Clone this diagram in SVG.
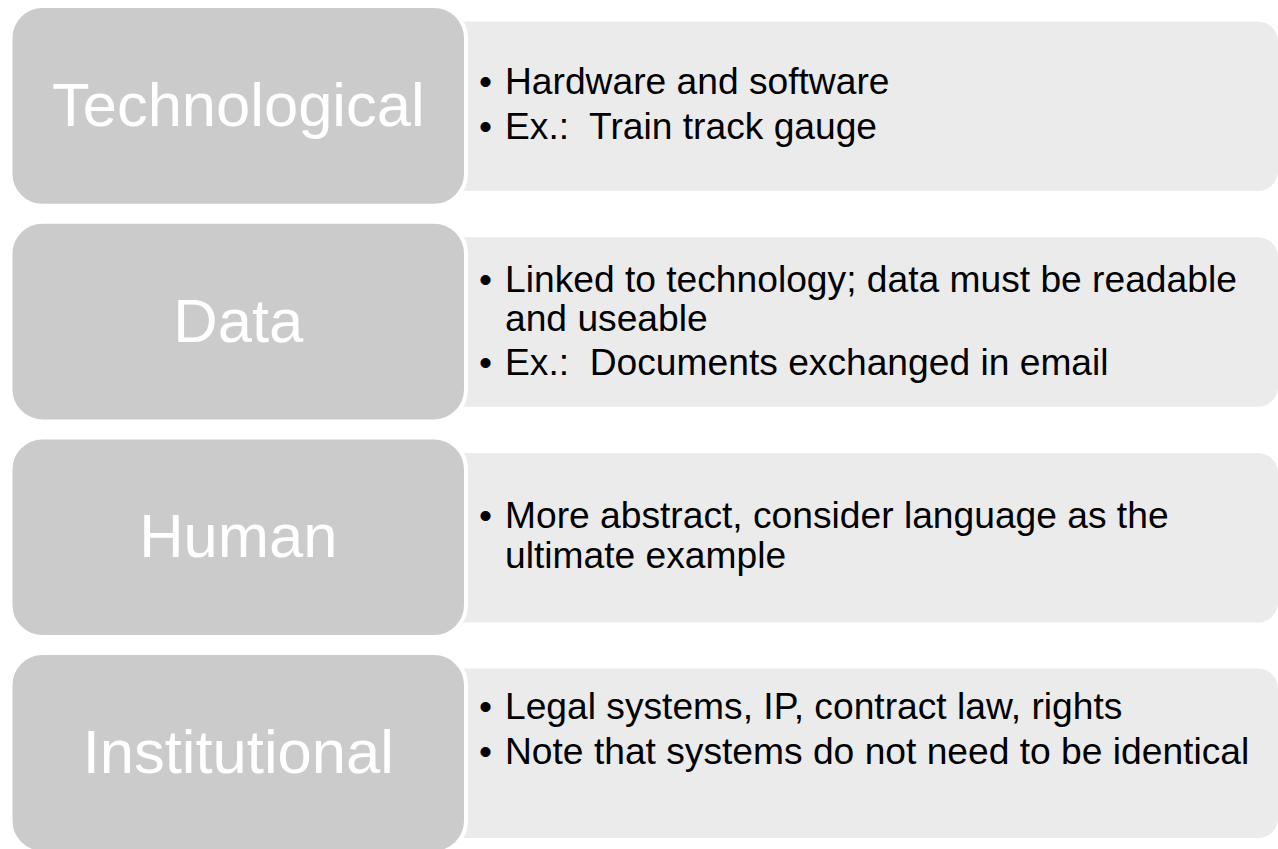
<svg xmlns="http://www.w3.org/2000/svg" width="1278" height="849" viewBox="0 0 1278 849">
  <style>
    .label { fill: #cbcbcb; stroke: #ffffff; stroke-width: 4; }
    .detail { fill: #ebebeb; }
    .head { font-family: "Liberation Sans", Arial, sans-serif; font-size: 61.5px; fill: #ffffff; text-anchor: middle; }
    .item { font-family: "Liberation Sans", Arial, sans-serif; font-size: 37.2px; fill: #000000; white-space: pre; }
  </style>
  <defs>
    <!-- detail panel: square on the left (hidden behind the label), rounded on the right -->
    <path id="panel" d="M440 0 H1258 A20 20 0 0 1 1278 20 V149.5 A20 20 0 0 1 1258 169.5 H440 Z"/>
  </defs>
  <rect width="1278" height="849" fill="#ffffff"/>

  <g id="row-technological">
    <use href="#panel" class="detail" transform="translate(0,21.5)"/>
    <rect class="label" x="10.5" y="6" width="455.5" height="199.7" rx="32"/>
    <text class="head" x="238.3" y="126">Technological</text>
    <text class="item" y="94.3"><tspan x="479">•</tspan><tspan x="505">Hardware and software</tspan></text>
    <text class="item" y="139.3"><tspan x="479">•</tspan><tspan x="505">Ex.:&#160; Train track gauge</tspan></text>
  </g>

  <g id="row-data">
    <use href="#panel" class="detail" transform="translate(0,237.2)"/>
    <rect class="label" x="10.5" y="221.7" width="455.5" height="199.7" rx="32"/>
    <text class="head" x="238.3" y="341.7">Data</text>
    <text class="item" y="291.7"><tspan x="479">•</tspan><tspan x="505">Linked to technology; data must be readable</tspan></text>
    <text class="item" x="505" y="331.4">and useable</text>
    <text class="item" y="375"><tspan x="479">•</tspan><tspan x="505">Ex.:&#160; Documents exchanged in email</tspan></text>
  </g>

  <g id="row-human">
    <use href="#panel" class="detail" transform="translate(0,452.9)"/>
    <rect class="label" x="10.5" y="437.4" width="455.5" height="199.7" rx="32"/>
    <text class="head" x="238.3" y="557">Human</text>
    <text class="item" y="528.3"><tspan x="479">•</tspan><tspan x="505">More abstract, consider language as the</tspan></text>
    <text class="item" x="505" y="568.3">ultimate example</text>
  </g>

  <g id="row-institutional">
    <use href="#panel" class="detail" transform="translate(0,668.6)"/>
    <rect class="label" x="10.5" y="653.1" width="455.5" height="199.7" rx="32"/>
    <text class="head" x="238.3" y="773">Institutional</text>
    <text class="item" y="719.3"><tspan x="479">•</tspan><tspan x="505">Legal systems, IP, contract law, rights</tspan></text>
    <text class="item" y="764"><tspan x="479">•</tspan><tspan x="505">Note that systems do not need to be identical</tspan></text>
  </g>
</svg>
